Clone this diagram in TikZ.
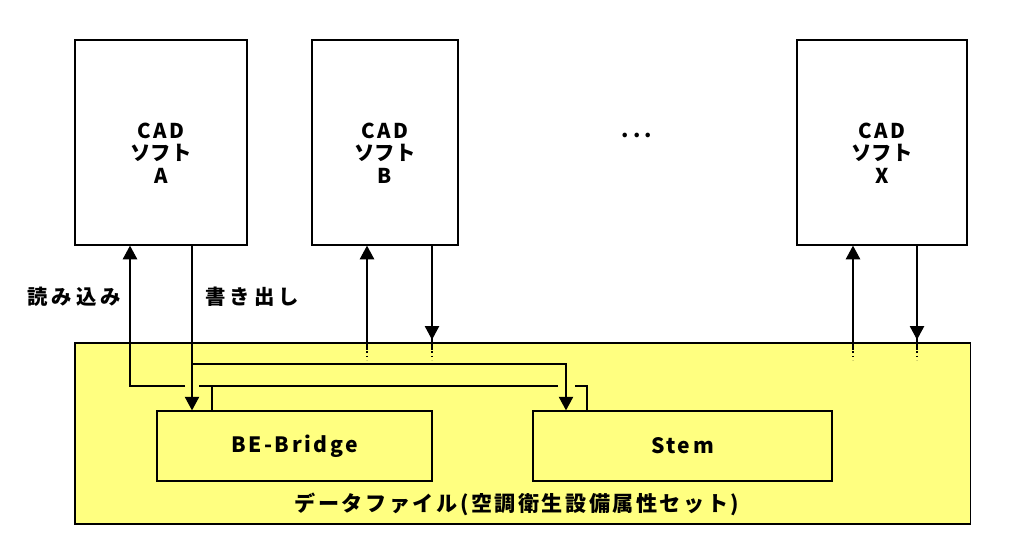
\documentclass[tikz,border=0pt]{standalone}
\usepackage{fontspec}
\usetikzlibrary{arrows.meta}
\newfontfamily\jpfont{Noto Sans CJK JP}
\newfontfamily\jpwide[LetterSpace=20]{Noto Sans CJK JP}
\newfontfamily\jplat[LetterSpace=12]{Noto Sans CJK JP}
\definecolor{datayellow}{RGB}{255,255,128}
\begin{document}
\begin{tikzpicture}[x=0.025cm,y=-0.025cm,
  box/.style={draw,line width=0.9pt,inner sep=0pt},
  flow/.style={line width=0.8pt,-{Triangle[width=0.36cm,length=0.34cm]}},
  wire/.style={line width=0.8pt},
  tailline/.style={line width=0.8pt,dash pattern=on 1.1pt off 2.1pt},
  cadtext/.style={align=center,font=\jpfont\bfseries\fontsize{14.5}{16}\selectfont},
  tooltext/.style={font=\jplat\bfseries\fontsize{15}{17}\selectfont},
  jptext/.style={font=\jpwide\bfseries\fontsize{14.5}{17}\selectfont}]
\useasboundingbox (0,0) rectangle (1016,547);

\node[box,minimum width=4.3cm,minimum height=5.125cm] (cadA) at (161,142.5) {};
\node[box,minimum width=3.65cm,minimum height=5.125cm] (cadB) at (385,142.5) {};
\node[box,minimum width=4.25cm,minimum height=5.125cm] (cadX) at (882,142.5) {};
\node[cadtext] (nameA) at (161,153) {{\jplat CAD}\\ソフト\\{\jplat A}};
\node[cadtext] (nameB) at (385,153) {{\jplat CAD}\\ソフト\\{\jplat B}};
\node[cadtext] (nameX) at (882,153) {{\jplat CAD}\\ソフト\\{\jplat X}};
\node[font=\jpwide\bfseries\fontsize{15}{17}\selectfont] (more) at (637,135) {...};

\node[box,fill=datayellow,minimum width=22.375cm,minimum height=4.525cm] (data) at (522.5,433.5) {};
\node[box,tooltext,minimum width=6.875cm,minimum height=1.75cm] (bridge) at (294.5,446) {BE-Bridge};
\node[box,tooltext,minimum width=7.475cm,minimum height=1.75cm] (stem) at (682.5,446) {Stem};
\node[tooltext] (datalabel) at (517,504) {データファイル(空調衛生設備属性セット)};
\node[jptext] (readlabel) at (74,297) {読み込み};
\node[jptext] (writelabel) at (252,297) {書き出し};

\coordinate (rA) at (130,386);
\coordinate (wA) at (192,364);
\coordinate (rBr) at (212,386);
\coordinate (rSt) at (587,386);
\coordinate (wSt) at (566,364);
\coordinate (inB) at (367,0);
\coordinate (outB) at (432,0);
\coordinate (inX) at (853,0);
\coordinate (outX) at (917,0);

\draw[flow] (cadA.south -| wA) -- (bridge.north -| wA);
\draw[flow] (wA) -- (wSt) -- (stem.north -| wSt);
\draw[wire] (bridge.north -| rBr) -- (rBr);
\draw[wire] (stem.north -| rSt) -- (rSt) -- ++(-12,0);
\draw[wire] (rSt) ++(-29,0) -- ++(-359,0);
\draw[flow] (rA) ++(55,0) -- (rA) -- (cadA.south -| rA);

\draw[flow] (inB |- data.north) -- (cadB.south -| inB);
\draw[flow] (cadB.south -| outB) -- ++(0,94);
\draw[flow] (inX |- data.north) -- (cadX.south -| inX);
\draw[flow] (cadX.south -| outX) -- ++(0,94);
\foreach \c in {inB,outB,inX,outX} {
  \draw[wire] (\c |- data.north) ++(0,-6) -- ++(0,14);
  \draw[tailline] (\c |- data.north) ++(0,9) -- ++(0,9);
}
\end{tikzpicture}
\end{document}
